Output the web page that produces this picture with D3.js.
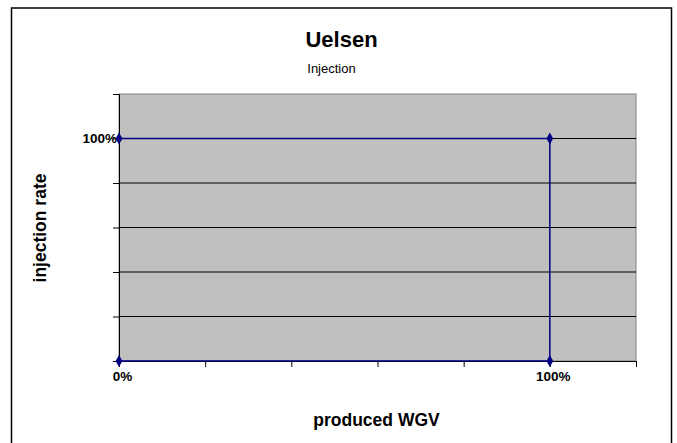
<!DOCTYPE html>
<html>
<head>
<meta charset="utf-8">
<script src="https://cdn.jsdelivr.net/npm/d3@7"></script>
<style>
  body { margin: 0; background: #fff; }
  svg { display: block; font-family: "Liberation Sans", Arial, sans-serif; }
</style>
</head>
<body>
<svg id="chart" width="677" height="443"></svg>
<script>
// chart data
var chartTitle = "Uelsen";
var chartSubtitle = "Injection";
var xTitle = "produced WGV";
var yTitle = "injection rate";

var producedWGV = [0, 1, 1, 0];     // x values (share)
var injectionRate = [1, 1, 0, 0];   // y values (share)

var tickValues = [0, 0.2, 0.4, 0.6, 0.8, 1, 1.2];
var labelledTicks = [0, 1];

var svg = d3.select("#chart");

// outer chart border
svg.append("rect")
  .attr("x", 11.5).attr("y", 8)
  .attr("width", 660).attr("height", 450)
  .attr("fill", "#fff")
  .attr("stroke", "#000")
  .attr("stroke-width", 1.5);

var plot = { left: 119, top: 94, right: 636, bottom: 361 };

var x = d3.scaleLinear().domain([0, 1.2]).range([plot.left, plot.right]);
var y = d3.scaleLinear().domain([0, 1.2]).range([plot.bottom, plot.top]);

// plot area
svg.append("rect")
  .attr("x", plot.left).attr("y", plot.top)
  .attr("width", plot.right - plot.left)
  .attr("height", plot.bottom - plot.top)
  .attr("fill", "#c0c0c0")
  .attr("stroke", "#808080")
  .attr("stroke-width", 1);

// gridlines
svg.append("g")
  .selectAll("line")
  .data(tickValues.filter(function(d){ return d > 0 && d < 1.2; }))
  .enter().append("line")
  .attr("x1", plot.left).attr("x2", plot.right)
  .attr("y1", function(d){ return y(d); })
  .attr("y2", function(d){ return y(d); })
  .attr("stroke", "#000")
  .attr("stroke-width", 1);

var pct = function(d){ return labelledTicks.indexOf(d) >= 0 ? d3.format(".0%")(d) : ""; };

// x axis
var xAxis = svg.append("g")
  .attr("transform", "translate(0," + plot.bottom + ")")
  .call(d3.axisBottom(x).tickValues(tickValues).tickFormat(pct).tickSize(6).tickPadding(4));
xAxis.select(".domain").attr("stroke", "#000");
xAxis.selectAll(".tick line").attr("stroke", "#000");
xAxis.selectAll(".tick text")
  .attr("font-family", "Liberation Sans, Arial, sans-serif")
  .attr("font-size", "13.5px")
  .attr("font-weight", "bold")
  .attr("fill", "#000")
  .attr("dx", 3);

// y axis
var yAxis = svg.append("g")
  .attr("transform", "translate(" + plot.left + ",0)")
  .call(d3.axisLeft(y).tickValues(tickValues).tickFormat(function(d){ return d === 1 ? pct(d) : ""; }).tickSize(6).tickPadding(-4));
yAxis.select(".domain").attr("stroke", "#000");
yAxis.selectAll(".tick line").attr("stroke", "#000");
yAxis.selectAll(".tick text")
  .attr("font-family", "Liberation Sans, Arial, sans-serif")
  .attr("font-size", "13.5px")
  .attr("font-weight", "bold")
  .attr("fill", "#000");

// series
var pts = producedWGV.map(function(d, i){ return { x: d, y: injectionRate[i] }; });

svg.append("path")
  .datum(pts)
  .attr("fill", "none")
  .attr("stroke", "#000080")
  .attr("stroke-width", 1.5)
  .attr("d", d3.line().x(function(d){ return x(d.x); }).y(function(d){ return y(d.y); }));

svg.append("g")
  .selectAll("path")
  .data(pts)
  .enter().append("path")
  .attr("transform", function(d){ return "translate(" + x(d.x) + "," + y(d.y) + ")"; })
  .attr("d", d3.symbol().type(d3.symbolDiamond).size(40))
  .attr("fill", "#000080");

// titles
svg.append("text")
  .attr("x", 341.5).attr("y", 47)
  .attr("text-anchor", "middle")
  .attr("font-size", "22px")
  .attr("font-weight", "bold")
  .text(chartTitle);

svg.append("text")
  .attr("x", 331.5).attr("y", 73)
  .attr("text-anchor", "middle")
  .attr("font-size", "13px")
  .text(chartSubtitle);

svg.append("text")
  .attr("x", 376.5).attr("y", 426)
  .attr("text-anchor", "middle")
  .attr("font-size", "17.5px")
  .attr("font-weight", "bold")
  .text(xTitle);

svg.append("text")
  .attr("transform", "translate(46,228) rotate(-90)")
  .attr("text-anchor", "middle")
  .attr("font-size", "17.5px")
  .attr("font-weight", "bold")
  .text(yTitle);
</script>
</body>
</html>
